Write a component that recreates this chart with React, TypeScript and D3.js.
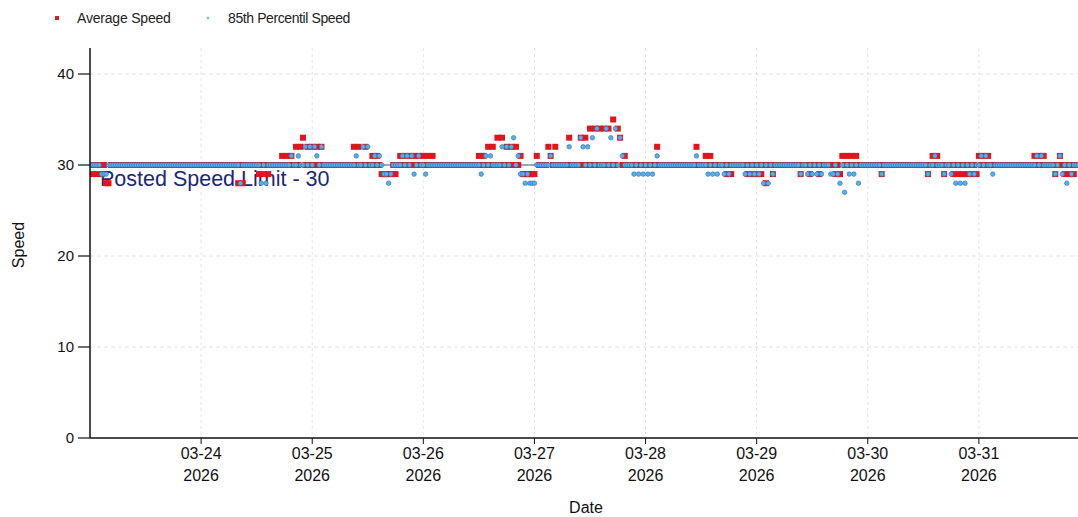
import React from 'react';
import * as d3 from 'd3';

// ---- data ----
const seriesStart = new Date(2026, 2, 23, 0, 0);
const axisEnd = new Date(2026, 3, 1, 0, 0);
const intervalMinutes = 30;
const speedLimit = 30;
const speedTicks = [0, 10, 20, 30, 40];
const legendLabels = ['Average Speed', '85th Percentil Speed'];
const limitLabel = 'Posted Speed Limit - 30';

// average speed, one value per 30 minutes from 03-23 00:00 (one row per day)
const avgSpeed: number[] = [
  30,29,30,29,30,29,30,28, 28,30,30,30,30,30,30,30, 30,30,30,30,30,30,30,30, 30,30,30,30,30,30,30,30, 30,30,30,30,30,30,30,30, 30,30,30,30,30,30,30,30,
  30,30,30,30,30,30,30,30, 30,30,30,30,30,30,30,30, 28,30,28,30,30,30,30,30, 30,29,30,29,30,29,30,30, 30,30,30,31,30,31,30,31, 30,32,30,32,33,30,32,30,
  32,30,32,30,32,30,30,30, 30,30,30,30,30,30,30,30, 30,30,32,30,32,30,30,32, 30,30,31,30,31,30,29,29, 29,29,29,30,29,30,31,30, 31,30,31,30,31,30,31,30,
  31,30,31,30,31,30,30,30, 30,30,30,30,30,30,30,30, 30,30,30,30,30,30,30,30, 31,30,31,30,32,30,32,30, 33,30,33,30,32,30,32,30, 32,30,31,29,29,29,29,29,
  29,31,30,30,30,30,32,31, 30,32,30,30,30,30,30,33, 30,30,30,30,33,30,33,30, 34,30,34,30,34,30,34,30, 34,30,35,30,34,33,30,31, 30,30,30,30,30,30,30,30,
  30,30,30,30,30,32,30,30, 30,30,30,30,30,30,30,30, 30,30,30,30,30,30,32,30, 30,30,31,30,31,30,30,30, 30,30,30,29,30,29,30,30, 30,30,30,30,29,30,29,30,
  29,30,29,30,28,30,30,29, 30,30,30,30,30,30,30,30, 30,30,30,29,30,30,30,29, 30,30,30,29,30,30,30,30, 30,30,29,30,29,31,30,31, 30,31,30,31,30,30,30,30,
  30,30,30,30,30,30,29,30, 30,30,30,30,30,30,30,30, 30,30,30,30,30,30,30,30, 30,30,29,30,31,30,31,30, 30,29,30,30,30,29,30,29, 30,29,30,29,30,29,30,29,
  31,30,31,30,31,30,30,30, 30,30,30,30,30,30,30,30, 30,30,30,30,30,30,30,30, 31,30,31,30,31,30,30,30, 30,29,30,31,30,29,30,29, 30,29,30,30,
];

// 85th percentile speed, same timestamps
const p85Speed: number[] = [
  30,30,30,30,30,29,29,29, 30,30,30,30,30,30,30,30, 30,30,30,30,30,30,30,30, 30,30,30,30,30,30,30,30, 30,30,30,30,30,30,30,30, 30,30,30,30,30,30,30,30,
  30,30,30,30,30,30,30,30, 30,30,30,30,30,30,30,30, 30,28,30,30,30,30,30,30, 30,30,28,30,28,30,30,30, 30,30,30,30,30,30,30,31, 30,30,31,30,30,32,30,32,
  30,32,31,30,32,30,30,30, 30,30,30,30,30,30,30,30, 30,30,30,31,30,30,32,30, 32,30,30,31,30,31,30,29, 29,28,29,30,30,30,30,31, 30,31,30,31,29,30,31,30,
  30,29,30,30,30,30,30,30, 30,30,30,30,30,30,30,30, 30,30,30,30,30,30,30,30, 30,29,30,31,30,31,30,30, 30,30,32,30,32,30,32,33, 30,31,29,29,28,29,28,28,
  28,30,30,30,30,30,30,31, 30,30,30,30,30,30,30,32, 30,30,30,30,33,32,30,32, 30,33,30,34,30,30,30,34, 30,33,30,34,30,33,31,30, 30,30,30,29,30,29,30,29,
  30,29,30,29,30,31,30,30, 30,30,30,30,30,30,30,30, 30,30,30,30,30,30,31,30, 30,30,30,29,30,29,30,29, 30,30,29,30,29,30,30,30, 30,30,30,29,30,29,30,29,
  30,29,30,28,30,28,30,29, 30,30,30,30,30,30,30,30, 30,30,30,29,30,30,29,30, 29,30,29,30,29,30,30,30, 29,29,30,29,28,30,27,30, 29,30,29,30,28,30,30,30,
  30,30,30,30,30,30,29,30, 30,30,30,30,30,30,30,30, 30,30,30,30,30,30,30,30, 30,30,29,30,30,31,30,30, 30,29,30,30,29,30,28,30, 28,30,28,30,29,30,29,30,
  30,31,30,31,30,30,29,30, 30,30,30,30,30,30,30,30, 30,30,30,30,30,30,30,30, 30,31,30,31,30,30,30,30, 30,29,30,31,29,30,28,30, 29,30,30,30,
];

const W = 1078;
const H = 517;
const FONT = '"Liberation Sans", Arial, Helvetica, sans-serif';

export default function App() {
  const x = d3.scaleTime().domain([seriesStart, axisEnd]).range([90, 1090]);
  const y = d3.scaleLinear().domain([0, 40]).range([438, 74]);
  const plotLeft = 90;
  const plotRight = W;
  const plotTop = 48;
  const plotBottom = 438;

  const timeAt = (i: number) => d3.timeMinute.offset(seriesStart, i * intervalMinutes);
  const dayTicks = d3.timeDay.range(d3.timeDay.offset(seriesStart, 1), axisEnd);
  const fmtMD = d3.timeFormat('%m-%d');
  const fmtY = d3.timeFormat('%Y');

  const sq = 6;

  return (
    <svg width={W} height={H} style={{ position: 'fixed', left: 0, top: 0, background: '#fff' }}
      fontFamily={FONT}>
      <defs>
        <clipPath id="plot">
          <rect x={plotLeft} y={plotTop - 5} width={plotRight - plotLeft} height={plotBottom - plotTop + 5} />
        </clipPath>
      </defs>
      <rect x={0} y={0} width={W} height={H} fill="#fff" />

      {/* legend */}
      <rect x={55} y={16} width={4} height={4} fill="#e3141b" />
      <text x={77} y={23} fontSize={14} fill="#222" letterSpacing={-0.2}>{legendLabels[0]}</text>
      <circle cx={208} cy={18} r={1.5} fill="#8cc4e8" />
      <text x={228} y={23} fontSize={14} fill="#222" letterSpacing={-0.4}>{legendLabels[1]}</text>

      {/* gridlines */}
      {speedTicks.filter(t => t > 0).map(t => (
        <line key={'hg' + t} x1={plotLeft} x2={plotRight} y1={y(t)} y2={y(t)}
          stroke="#e2e2e2" strokeWidth={1} strokeDasharray="4 3" />
      ))}
      {dayTicks.map(d => (
        <line key={'vg' + d.getTime()} x1={x(d)} x2={x(d)} y1={plotTop} y2={plotBottom}
          stroke="#e6e6e6" strokeWidth={1} strokeDasharray="3 3" />
      ))}

      {/* speed limit line + label */}
      <line x1={plotLeft} x2={plotRight} y1={y(speedLimit)} y2={y(speedLimit)} stroke="#44507a" strokeWidth={1} />
      <text x={100} y={186} fontSize={21.5} fill="#1a2878">{limitLabel}</text>

      <g clipPath="url(#plot)">
        {avgSpeed.map((v, i) => (
          <rect key={'a' + i} x={x(timeAt(i)) - sq / 2} y={y(v) - sq / 2} width={sq} height={sq}
            fill="#e3141b" />
        ))}
        {p85Speed.map((v, i) => (
          <circle key={'p' + i} cx={x(timeAt(i))} cy={y(v)} r={2.3}
            fill="#5aaee2" stroke="#2a76c0" strokeWidth={0.6} />
        ))}
      </g>

      {/* axes */}
      <line x1={plotLeft} x2={plotLeft} y1={plotTop} y2={plotBottom} stroke="#111" strokeWidth={1.5} />
      <line x1={plotLeft} x2={plotRight} y1={plotBottom} y2={plotBottom} stroke="#111" strokeWidth={1.5} />
      {speedTicks.map(t => (
        <g key={'yt' + t}>
          <line x1={78} x2={plotLeft} y1={y(t)} y2={y(t)} stroke="#111" strokeWidth={1.2} />
          <text x={74} y={y(t)} dy="0.36em" textAnchor="end" fontSize={15} fill="#111">{t}</text>
        </g>
      ))}
      {dayTicks.map(d => (
        <g key={'xt' + d.getTime()}>
          <line x1={x(d)} x2={x(d)} y1={plotBottom} y2={plotBottom + 6} stroke="#111" strokeWidth={1} />
          <text x={x(d)} y={459} textAnchor="middle" fontSize={16} fill="#111">{fmtMD(d)}</text>
          <text x={x(d)} y={481} textAnchor="middle" fontSize={16} fill="#111">{fmtY(d)}</text>
        </g>
      ))}
      <text x={586} y={513} textAnchor="middle" fontSize={16} fill="#111">Date</text>
      <text transform="translate(24,245) rotate(-90)" textAnchor="middle" fontSize={16} fill="#111">Speed</text>
    </svg>
  );
}
